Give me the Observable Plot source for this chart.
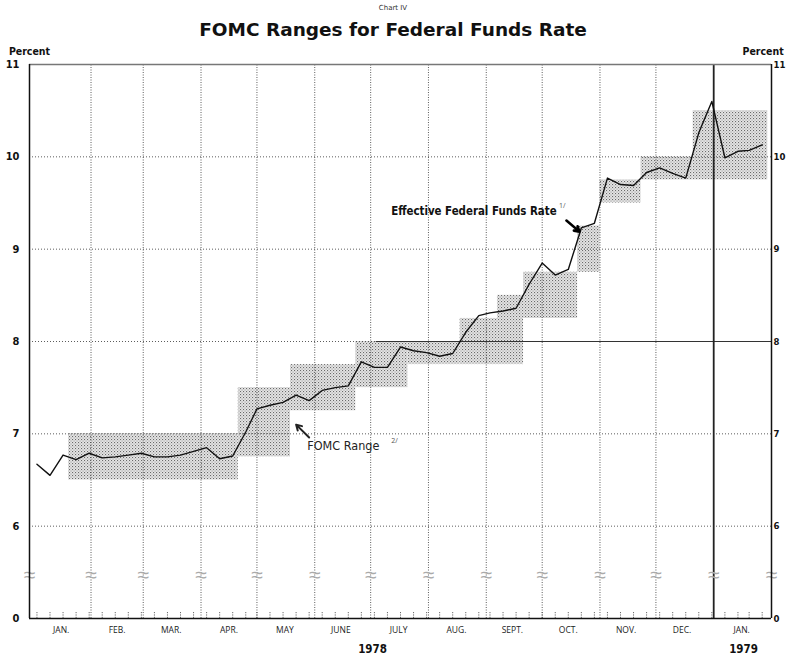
<!DOCTYPE html>
<html>
<head>
<meta charset="utf-8">
<script src="https://cdn.jsdelivr.net/npm/d3@7"></script>
<script src="https://cdn.jsdelivr.net/npm/@observablehq/plot@0.6"></script>
<style>
  html, body { margin: 0; padding: 0; background: #fff; }
  body { width: 786px; height: 656px; overflow: hidden; }
  #head { position: relative; height: 40px; width: 786px; font-family: "DejaVu Sans", sans-serif; color: #111; }
  #sup { position: absolute; top: 3px; left: 0; width: 786px; text-align: center; font-size: 7px; line-height: 10px; color: #333; }
  #title { position: absolute; top: 19px; left: 0; width: 786px; text-align: center; font-size: 18.5px; line-height: 22px; font-weight: bold; }
  #chart svg { display: block; }
</style>
</head>
<body>
<div id="head">
  <div id="sup">Chart IV</div>
  <div id="title">FOMC Ranges for Federal Funds Rate</div>
</div>
<div id="chart"></div>
<script>
// Weekly effective federal funds rate (percent)
const weekDates = ["1978-01-03","1978-01-10","1978-01-17","1978-01-24","1978-01-31","1978-02-07","1978-02-14","1978-02-21","1978-02-28","1978-03-07","1978-03-14","1978-03-21","1978-03-28","1978-04-04","1978-04-11","1978-04-18","1978-04-25","1978-05-01","1978-05-08","1978-05-15","1978-05-22","1978-05-29","1978-06-05","1978-06-12","1978-06-19","1978-06-26","1978-07-03","1978-07-10","1978-07-17","1978-07-24","1978-07-31","1978-08-07","1978-08-14","1978-08-21","1978-08-28","1978-09-03","1978-09-10","1978-09-17","1978-09-24","1978-10-01","1978-10-08","1978-10-15","1978-10-22","1978-10-29","1978-11-05","1978-11-12","1978-11-19","1978-11-26","1978-12-03","1978-12-10","1978-12-17","1978-12-24","1978-12-31","1979-01-07","1979-01-14","1979-01-20","1979-01-27"];
const effRate = [6.67,6.55,6.77,6.72,6.79,6.74,6.75,6.77,6.79,6.75,6.75,6.77,6.81,6.85,6.73,6.76,
  7.02,7.27,7.31,7.34,7.42,7.36,7.47,7.50,7.52,7.78,7.72,7.72,7.94,7.90,7.88,7.84,7.87,
  8.10,8.28,8.31,8.33,8.36,8.62,8.85,8.72,8.78,9.23,9.28,
  9.77,9.70,9.69,9.83,9.88,9.82,9.77,10.26,10.60,9.99,10.06,10.07,10.13];

// FOMC ranges
const rangeStart = ["1978-01-20","1978-04-21","1978-05-19","1978-06-23","1978-07-21","1978-08-18","1978-09-07","1978-09-21","1978-10-20","1978-11-01","1978-11-23","1978-12-21"];
const rangeEnd   = ["1978-04-21","1978-05-19","1978-06-23","1978-07-21","1978-08-18","1978-09-21","1978-09-21","1978-10-20","1978-11-01","1978-11-23","1978-12-21","1979-01-30"];
const rangeLow   = [6.5, 6.75, 7.25, 7.5, 7.75, 7.75, 8.25, 8.25, 8.75, 9.5, 9.75, 9.75];
const rangeHigh  = [7.0, 7.5, 7.75, 8.0, 8.0, 8.25, 8.5, 8.75, 9.25, 9.75, 10.0, 10.5];

// Axis ticks and labels
const yTicks = [5, 6, 7, 8, 9, 10, 11];
const yTickLabels = ["0", "6", "7", "8", "9", "10", "11"];
const yGrid = [6, 7, 8, 9, 10];
const monthLines = ["1978-02-01","1978-03-01","1978-04-01","1978-05-01","1978-06-01","1978-07-01","1978-08-01","1978-09-01","1978-10-01","1978-11-01","1978-12-01"];
const yearLine = "1979-01-01";
const monthLabelDates = ["1978-01-16","1978-02-15","1978-03-16","1978-04-16","1978-05-16","1978-06-15","1978-07-16","1978-08-16","1978-09-15","1978-10-15","1978-11-15","1978-12-15","1979-01-16"];
const monthLabels = ["JAN.","FEB.","MAR.","APR.","MAY","JUNE","JULY","AUG.","SEPT.","OCT.","NOV.","DEC.","JAN."];
const yearLabelDates = ["1978-07-02","1979-01-17"];
const yearLabels = ["1978","1979"];
const breakDates = ["1977-12-30","1978-02-01","1978-03-01","1978-04-01","1978-05-01","1978-06-01","1978-07-01","1978-08-01","1978-09-01","1978-10-01","1978-11-01","1978-12-01","1979-01-01","1979-02-01"];

const parse = d3.utcParse("%Y-%m-%d");
const x0 = parse("1977-12-30"), x1 = parse("1979-02-01");
const eff = weekDates.map((d, i) => ({date: parse(d), rate: effRate[i]}));
const ranges = rangeStart.map((d, i) => ({a: parse(d), b: parse(rangeEnd[i]), lo: rangeLow[i], hi: rangeHigh[i]}));
const months = monthLines.map(parse);
const mLabels = monthLabelDates.map((d, i) => ({date: parse(d), label: monthLabels[i]}));
const yLabels = yearLabelDates.map((d, i) => ({date: parse(d), label: yearLabels[i]}));
const breaks = breakDates.map(parse);
const fmtY = d => yTickLabels[yTicks.indexOf(d)];

const narrow = "'Liberation Sans Narrow','DejaVu Sans Condensed','Roboto Condensed','DejaVu Sans',sans-serif";
const light = "'Open Sans','Lato',sans-serif";

const chart = Plot.plot({
  width: 786,
  height: 616,
  marginTop: 24,
  marginBottom: 38,
  marginLeft: 29,
  marginRight: 15,
  x: {type: "utc", domain: [x0, x1], axis: null},
  y: {domain: [5, 11], axis: null},
  style: {background: "#fff", color: "#111", overflow: "visible"},
  marks: [
    Plot.rect(ranges, {x1: "a", x2: "b", y1: "lo", y2: "hi", fill: "url(#stipple)"}),
    Plot.ruleY(yGrid, {stroke: "#333", strokeWidth: 0.8, strokeDasharray: "1,2"}),
    Plot.ruleY([{y: 8, a: parse("1978-07-04"), b: x1}], {y: "y", x1: "a", x2: "b", stroke: "#333", strokeWidth: 1}),
    Plot.ruleX(months, {y1: 5, y2: 11, stroke: "#333", strokeWidth: 0.8, strokeDasharray: "1,1.5"}),
    Plot.ruleX([parse(yearLine)], {y1: 5, y2: 11, stroke: "#222", strokeWidth: 1.8}),
    Plot.ruleY([11], {stroke: "#777", strokeWidth: 1.3}),
    Plot.ruleX(eff, {x: "date", y1: 5, y2: 5.07, stroke: "#444", strokeWidth: 0.8, strokeDasharray: "1.2,1.2"}),
    Plot.text(breaks, {x: d => d, y: 5.465, text: () => "\u2248", fontSize: 21, fill: "#aaa"}),
    Plot.ruleX([x0], {y1: 5, y2: 11, stroke: "#111", strokeWidth: 1.5}),
    Plot.ruleX([x1], {y1: 5, y2: 11, stroke: "#111", strokeWidth: 1.5}),
    Plot.ruleY([5], {stroke: "#111", strokeWidth: 1.5}),
    Plot.line(eff, {x: "date", y: "rate", stroke: "#111", strokeWidth: 1.4}),
    Plot.axisY(yTicks, {anchor: "left", tickSize: 0, tickPadding: 10, tickFormat: fmtY, fontSize: 11, fontWeight: "bold", fontFamily: narrow}),
    Plot.axisY(yTicks, {anchor: "right", tickSize: 0, tickPadding: 2, tickFormat: fmtY, fontSize: 9.5, fontWeight: "bold", fontFamily: narrow}),
    Plot.text(["Percent"], {frameAnchor: "top-left", textAnchor: "middle", dy: -17, fontSize: 10.5, fontWeight: "bold", fontFamily: narrow}),
    Plot.text(["Percent"], {frameAnchor: "top-right", dy: -17, textAnchor: "start", dx: -29, fontSize: 10.5, fontWeight: "bold", fontFamily: narrow}),
    Plot.text(mLabels, {x: "date", y: 5, text: "label", dy: 12, fontSize: 8.5, fontFamily: light, fill: "#222"}),
    Plot.text(yLabels, {x: "date", y: 5, text: "label", dy: 31, fontSize: 11.5, fontWeight: "bold", fontFamily: narrow}),
    // annotations
    Plot.text([{date: parse("1978-07-12"), v: 9.405, t: "Effective Federal Funds Rate"}], {x: "date", y: "v", text: "t", textAnchor: "start", fontSize: 11.4, fontWeight: "bold", fontFamily: narrow}),
    Plot.text([{date: parse("1978-10-10"), v: 9.47, t: "1/"}], {x: "date", y: "v", text: "t", textAnchor: "start", fontSize: 7, fontFamily: light, fill: "#555"}),
    Plot.arrow([{a: parse("1978-10-14"), ay: 9.31, b: parse("1978-10-21"), by: 9.19}], {x1: "a", y1: "ay", x2: "b", y2: "by", stroke: "#000", strokeWidth: 2.6, headLength: 7}),
    Plot.text([{date: parse("1978-05-28"), v: 6.87, t: "FOMC Range"}], {x: "date", y: "v", text: "t", textAnchor: "start", fontSize: 12.5, fontFamily: narrow, fill: "#222"}),
    Plot.text([{date: parse("1978-07-12"), v: 6.93, t: "2/"}], {x: "date", y: "v", text: "t", textAnchor: "start", fontSize: 7, fontFamily: light, fill: "#555"}),
    Plot.arrow([{a: parse("1978-05-29"), ay: 6.96, b: parse("1978-05-22"), by: 7.1}], {x1: "a", y1: "ay", x2: "b", y2: "by", stroke: "#222", strokeWidth: 2, headLength: 6})
  ]
});

const ns = "http://www.w3.org/2000/svg";
const defs = document.createElementNS(ns, "defs");
defs.innerHTML = '<pattern id="stipple" width="3" height="3" patternUnits="userSpaceOnUse">' +
  '<rect width="3" height="3" fill="#e6e6e6"/>' +
  '<rect x="0" y="0" width="1.1" height="1.1" fill="#6a6a6a"/>' +
  '<rect x="1.5" y="1.5" width="1.1" height="1.1" fill="#999"/></pattern>';
chart.insertBefore(defs, chart.firstChild);
document.getElementById("chart").appendChild(chart);
</script>
</body>
</html>
